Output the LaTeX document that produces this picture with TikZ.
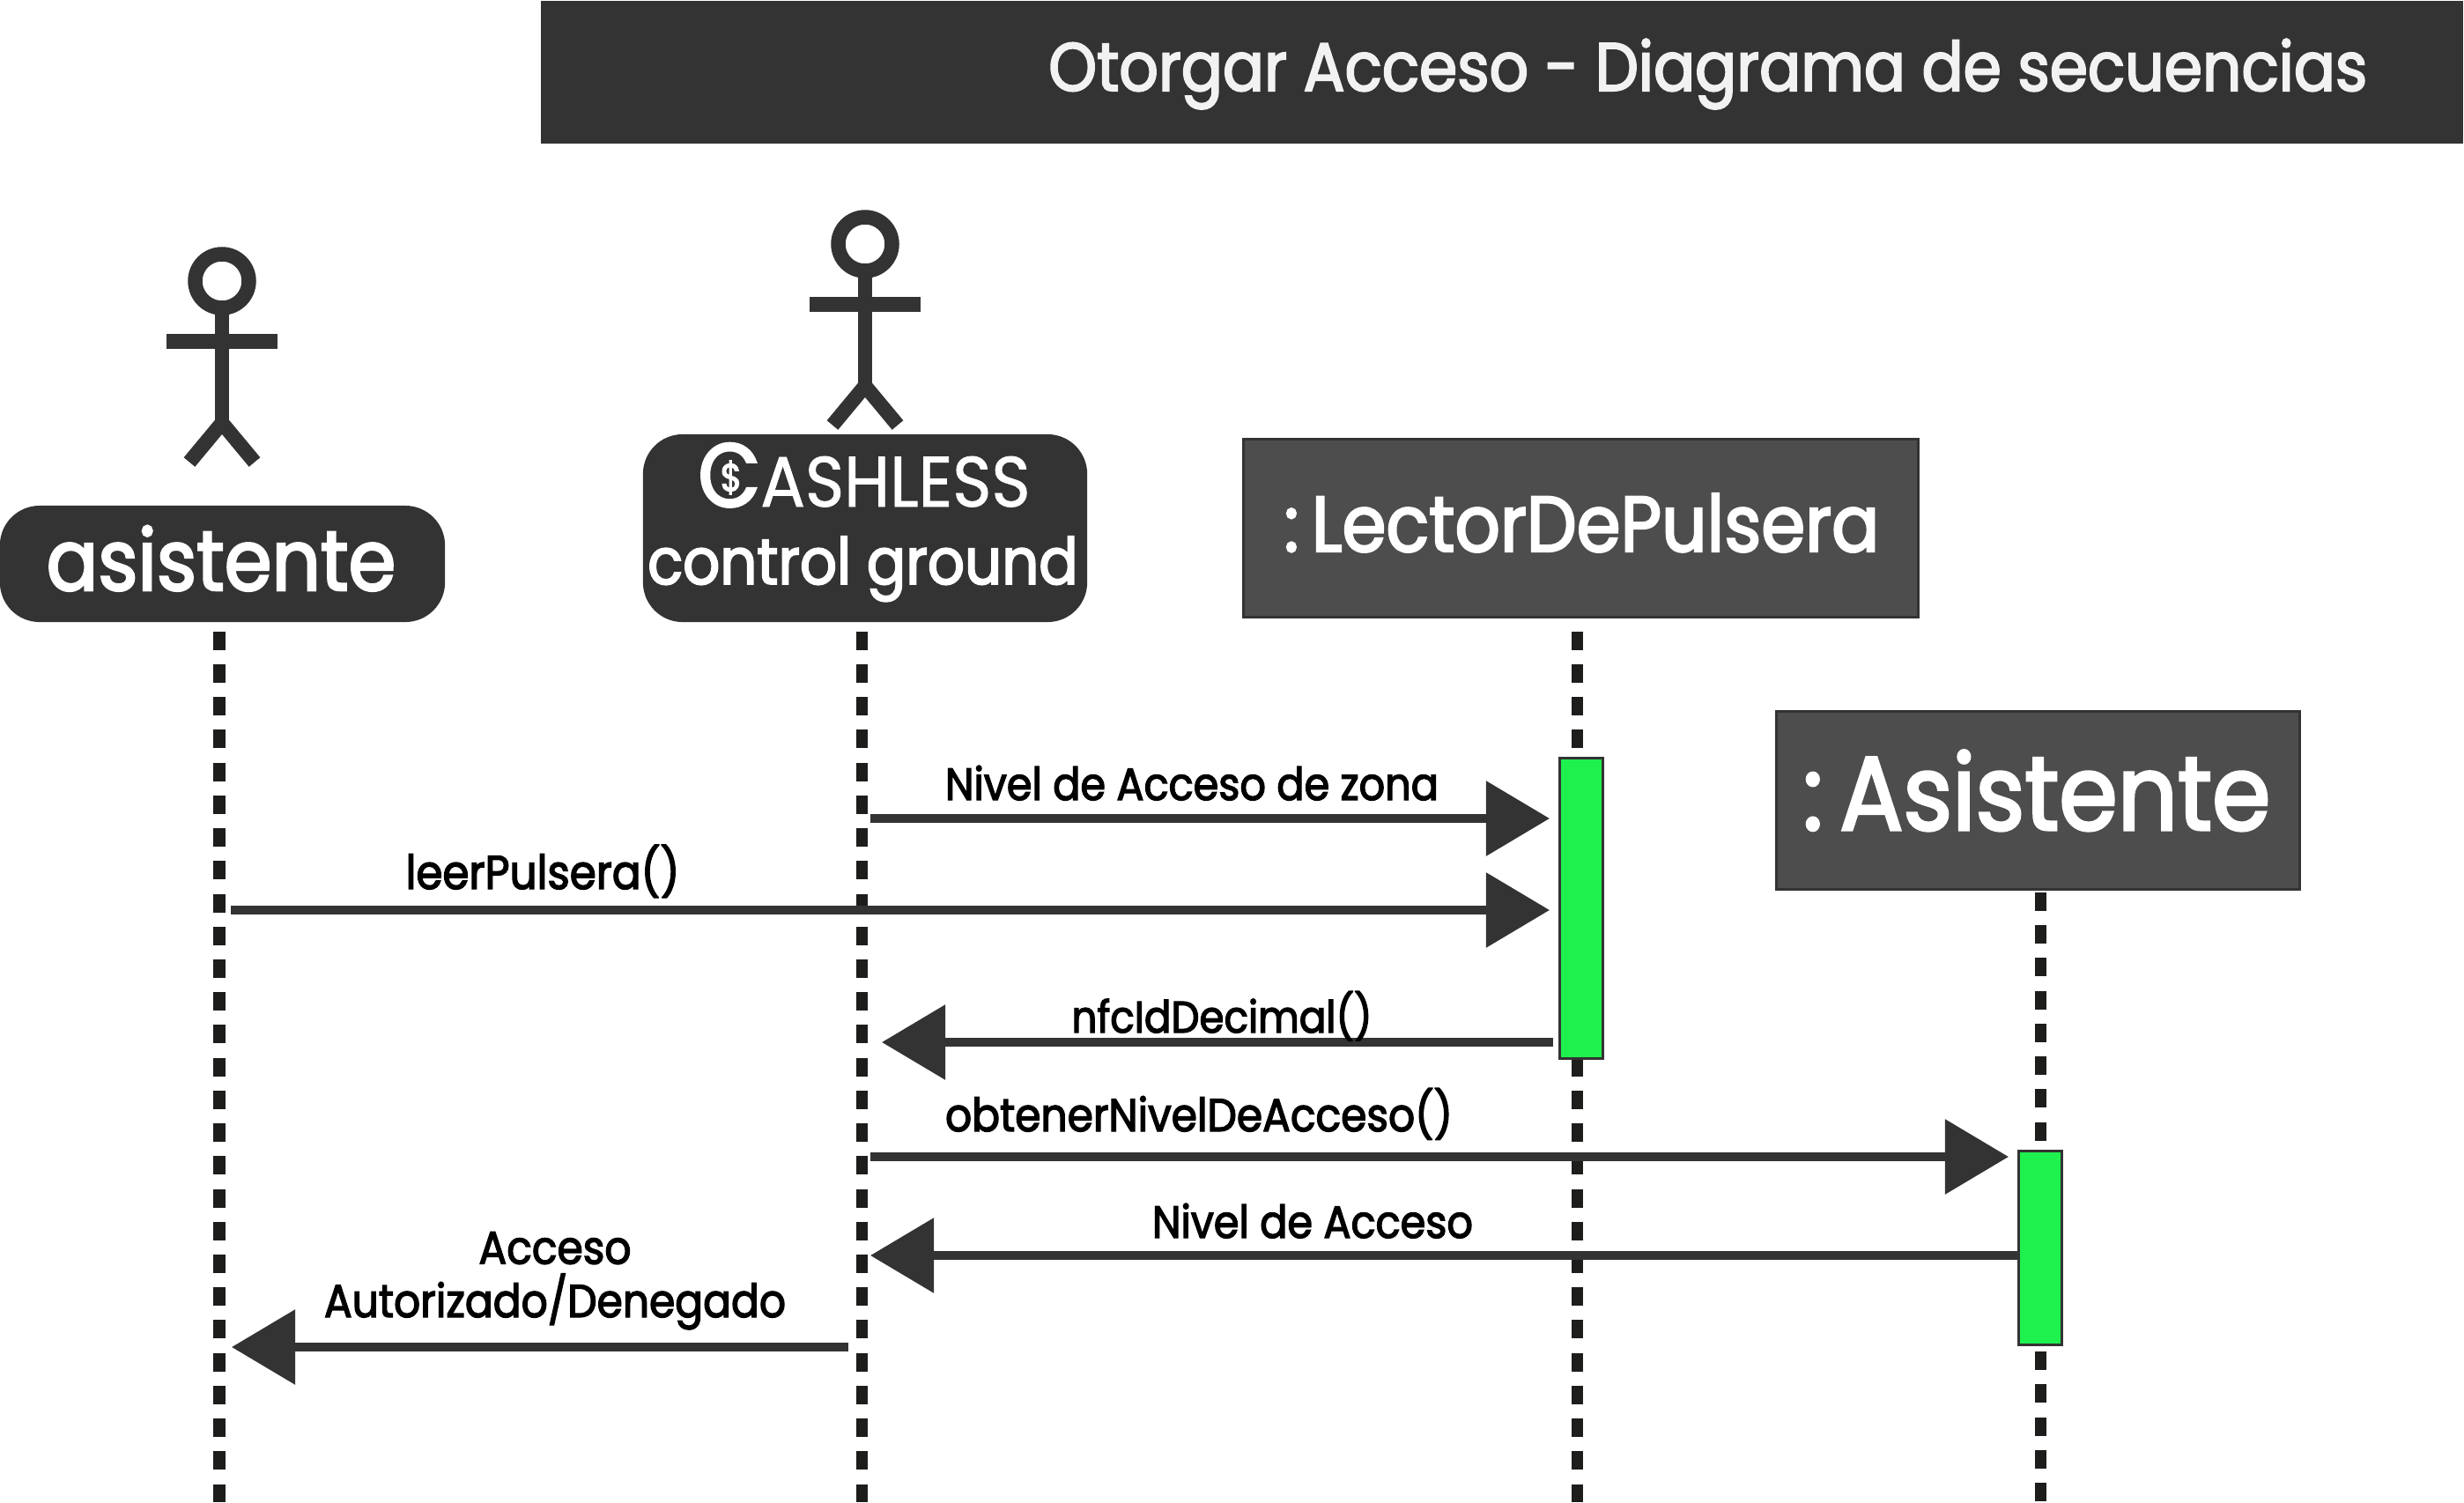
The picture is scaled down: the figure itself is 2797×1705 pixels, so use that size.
\documentclass[tikz,border=0pt]{standalone}
\usepackage{fontspec}
\usetikzlibrary{arrows.meta}
\setmainfont{Poppins}
\newfontfamily\medfont[FakeBold=2.6,FakeStretch=0.9]{Poppins}
\newfontfamily\thinfont[FakeBold=1,FakeStretch=0.93]{Poppins}
\definecolor{barcolor}{HTML}{333333}
\definecolor{boxcolor}{HTML}{4D4D4D}
\definecolor{lifecolor}{HTML}{1D1D1B}
\definecolor{actcolor}{HTML}{1EF14E}
\definecolor{whitetext}{HTML}{F2F2F2}
\tikzset{
  roundbox/.style={fill=barcolor,rounded corners=.45cm,inner sep=0pt},
  classbox/.style={draw=barcolor,line width=.03cm,fill=boxcolor,inner sep=0pt},
  activation/.style={draw=barcolor,line width=.03cm,fill=actcolor,minimum width=.49cm,inner sep=0pt},
  lifeline/.style={draw=lifecolor,line width=.13cm,dash pattern=on .21cm off .162cm},
  message/.style={draw=barcolor,line width=.095cm,-{Triangle[length=.72cm,width=.83cm]}},
  boxtext/.style={anchor=base,text=white,inner sep=0pt},
  msglabel/.style={anchor=base,text=black,inner sep=0pt,align=center,font=\medfont\fontsize{#1}{17.2}\selectfont},
  msglabel/.default=14.6,
  actorline/.style={draw=barcolor,line width=.165cm}
}
\begin{document}
\begin{tikzpicture}[x=.01cm,y=-.01cm]
\useasboundingbox (0,0) rectangle (2797,1705);
% title
\node[fill=barcolor,minimum width=21.81cm,minimum height=1.62cm,inner sep=0pt,anchor=north east] (titlebar) at (2797,0) {};
\node[anchor=base east,text=whitetext,inner sep=0pt,font=\medfont\fontsize{22}{26}\selectfont] (titletext) at (2688,103) {Otorgar Acceso - Diagrama de secuencias};
% actors
\foreach \dx/\dy in {-730/42,0/0} {
  \begin{scope}[shift={(\dx,\dy)}]
    \draw[actorline] (982,277) circle [radius=30.5];
    \draw[actorline] (982,308) -- (982,438);
    \draw[actorline] (919,345.5) -- (1045,345.5);
    \draw[actorline] (945,482.5) -- (982,438) -- (1019,482.5);
  \end{scope}
}
% lifelines
\coordinate (asistenteTop) at (249,716.7);
\coordinate (asistenteEnd) at (249,1705);
\coordinate (controlTop) at (978,716.7);
\coordinate (controlEnd) at (978,1705);
\coordinate (lectorTop) at (1790,716.7);
\coordinate (lectorEnd) at (1790,1705);
\coordinate (claseTop) at (2316,1013);
\coordinate (claseEnd) at (2316,1705);
\draw[lifeline] (asistenteTop) -- (asistenteEnd);
\draw[lifeline] (controlTop) -- (controlEnd);
\draw[lifeline] (lectorTop) -- (lectorEnd);
\draw[lifeline] (claseTop) -- (claseEnd);
% participants
\node[roundbox,minimum width=5.05cm,minimum height=1.32cm] (asistente) at (252.5,640) {};
\node[boxtext,font=\medfont\fontsize{27.4}{32}\selectfont] (asistentetext) at (251,670) {asistente};
\node[roundbox,minimum width=5.04cm,minimum height=2.13cm] (control) at (982,599.5) {};
\node[boxtext] (cashless) at (981,575) {{\medfont\fontsize{29}{32}\selectfont C}{\thinfont\fontsize{23}{27}\selectfont ASHLESS}};
\node[boxtext,font=\medfont\fontsize{20.8}{25}\selectfont] (ground) at (979.5,663) {control ground};
\node[anchor=center,text=white,inner sep=0pt,font=\medfont\fontsize{12.5}{15}\selectfont] (dollar) at (830,542) {\$};
\node[classbox,minimum width=7.66cm,minimum height=2.02cm] (lector) at (1794.5,599.5) {};
\node[boxtext,font=\medfont\fontsize{25.4}{30}\selectfont] (lectortext) at (1795.5,626) {:\hspace{.16em}LectorDePulsera};
\node[classbox,minimum width=5.94cm,minimum height=2.02cm] (clase) at (2313.5,908.5) {};
\node[boxtext,font=\medfont\fontsize{33.8}{38}\selectfont] (clasetext) at (2312,942) {:\hspace{.16em}Asistente};
% activations
\node[activation,minimum height=3.41cm] (actLector) at (1794.5,1031) {};
\node[activation,minimum height=2.19cm] (actClase) at (2315.5,1416.5) {};
% messages
\coordinate (m1a) at (988,929);
\coordinate (m1b) at (1759,929);
\coordinate (m2a) at (262,1033);
\coordinate (m2b) at (1759,1033);
\coordinate (m3a) at (1763,1183);
\coordinate (m3b) at (1001,1183);
\coordinate (m4a) at (988,1313);
\coordinate (m4b) at (2280,1313);
\coordinate (m5a) at (2290,1425);
\coordinate (m5b) at (988,1425);
\coordinate (m6a) at (963,1529);
\coordinate (m6b) at (263,1529);
\draw[message] (m1a) -- (m1b);
\draw[message] (m2a) -- (m2b);
\draw[message] (m3a) -- (m3b);
\draw[message] (m4a) -- (m4b);
\draw[message] (m5a) -- (m5b);
\draw[message] (m6a) -- (m6b);
% message labels
\node[msglabel] (m1label) at (1353,908) {Nivel de Acceso de zona};
\node[msglabel=15.3] (m2label) at (616,1009) {leerPulsera()};
\node[msglabel=14.3] (m3label) at (1387,1172) {nfcIdDecimal()};
\node[msglabel=14.9] (m4label) at (1361,1284) {obtenerNivelDeAcceso()};
\node[msglabel] (m5label) at (1490,1405) {Nivel de Acceso};
\node[msglabel=14.9] (m6label) at (630,1495) {Acceso\\Autorizado/Denegado};
\end{tikzpicture}
\end{document}
